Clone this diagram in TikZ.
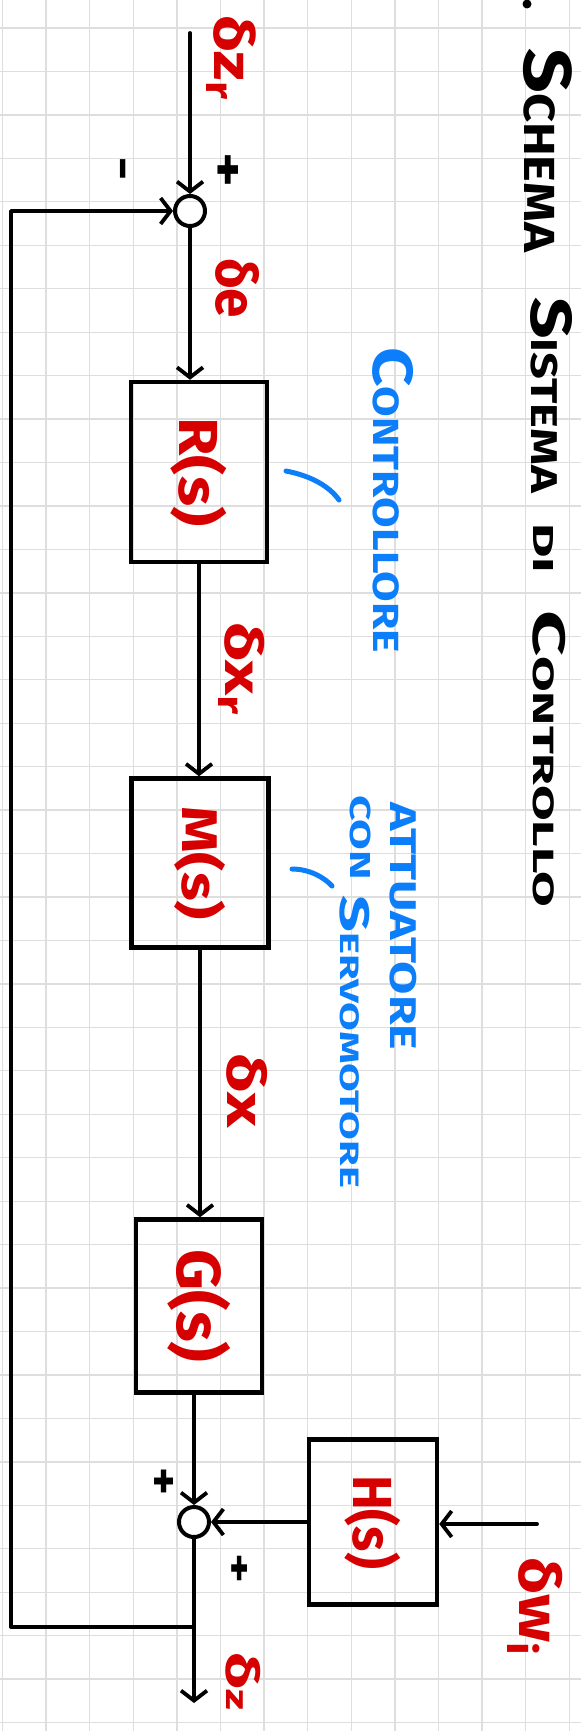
\documentclass[tikz,border=0pt]{standalone}
\usepackage{fontspec}
\setmainfont{Fira Sans}
\usetikzlibrary{arrows.meta,calc}
\definecolor{hred}{RGB}{214,0,0}
\definecolor{hblue}{RGB}{12,126,250}
\definecolor{gridc}{RGB}{222,222,222}
\newcommand\fitbox[3]{\resizebox*{#1}{#2}{#3}}
\newcommand\capL[1]{{\fontsize{15.5}{18}\selectfont #1}}
\begin{document}
\begin{tikzpicture}[x=1pt,y=-1pt,
  line/.style={line width=3.8pt,line cap=round,line join=round},
  arr/.style={line,-{Straight Barb[length=10pt,width=26pt]}},
  block/.style={draw,line width=4.5pt,inner sep=0pt},
  sumj/.style={circle,draw,line width=4pt,minimum size=30pt,inner sep=0pt},
  lab/.style={inner sep=0pt,anchor=south west,rotate=-90,text=hred,font=\bfseries},
  note/.style={inner sep=0pt,anchor=south west,rotate=-90,text=hblue,font=\bfseries},
  titl/.style={inner sep=0pt,anchor=south west,rotate=-90,text=black,font=\bfseries},
  sgn/.style={inner sep=0pt,rotate=-90,text=black,font=\bfseries},
  bluestroke/.style={hblue,line width=5pt,line cap=round},
  gridl/.style={gridc,line width=1.3pt}]
\fill[white] (0,0) rectangle (581,1731);
\useasboundingbox (0,0) rectangle (581,1731);
% grid
\foreach \i in {0,...,13} \draw[gridl] ({2.5+43.6*\i},0) -- ({2.5+43.6*\i},1731);
\foreach \j in {0,...,39} \draw[gridl] (0,{28+43.45*\j}) -- (581,{28+43.45*\j});

% title
\fill (527,4) circle (4.5);
\node[titl] (t1) at (523,48) {\fitbox{204pt}{49pt}{\capL{S}CHEMA}};
\node[titl] (t2) at (530,297) {\fitbox{196pt}{42pt}{\capL{S}ISTEMA}};
\node[titl] (t3) at (533,523) {\fitbox{50pt}{20pt}{DI}};
\node[titl] (t4) at (533,610) {\fitbox{297pt}{33pt}{\capL{C}ONTROLLO}};

% blocks
\node[sumj] (s1) at (190,211) {};
\node[block,minimum width=136pt,minimum height=180pt] (R) at (199,472)
  {\color{hred}\bfseries\rotatebox{-90}{\fitbox{109pt}{56pt}{R(s)}}};
\node[block,minimum width=137pt,minimum height=169pt] (M) at (200,863)
  {\color{hred}\bfseries\rotatebox{-90}{\fitbox{114pt}{51pt}{M(s)}}};
\node[block,minimum width=126pt,minimum height=173pt] (G) at (199,1306)
  {\color{hred}\bfseries\rotatebox{-90}{\fitbox{113pt}{63pt}{G(s)}}};
\node[sumj] (s2) at (194,1522) {};
\node[block,minimum width=128pt,minimum height=165pt] (H) at (373,1522)
  {\color{hred}\bfseries\rotatebox{-90}{\fitbox{94pt}{56pt}{H(s)}}};

\coordinate (zin) at (190,33);
\coordinate (win) at (537,1524);
\coordinate (zout) at (194,1703);
\coordinate (br) at (194,1627);
\coordinate (bl) at (11,1627);
\coordinate (tl) at (11,211);

% connectors
\draw[arr] (zin) -- (s1);
\draw[arr] (s1) -- (s1 |- R.north);
\draw[arr] (R.south) -- (R.south |- M.north);
\draw[arr] (M.south) -- (M.south |- G.north);
\draw[arr] (G.south -| s2) -- (s2);
\draw[arr] (s2) -- (zout);
\draw[arr] (H) -- (s2);
\draw[arr] (win) -- (win -| H.east);
\draw[arr] (br) -- (bl) -- (tl) -- (s1);

% signs
\node[sgn] (p1) at (226,170) {\fitbox{35pt}{26pt}{+}};
\node[sgn,font=\bfseries\fontsize{44}{44}\selectfont] (m1) at (117,169) {−};
\node[sgn] (p2) at (162,1481) {\fitbox{28pt}{24pt}{+}};
\node[sgn] (p3) at (238,1568) {\fitbox{30pt}{20pt}{+}};

% signal labels
\node[lab] (lzr) at (206,15) {\fitbox{87pt}{50pt}{δz\textsubscript{r}}};
\node[lab] (le) at (215,258) {\fitbox{60pt}{44pt}{δe}};
\node[lab] (lxr) at (218,622) {\fitbox{96pt}{47pt}{δx\textsubscript{r}}};
\node[lab] (lx) at (226,1053) {\fitbox{74pt}{41pt}{δx}};
\node[lab] (lz) at (226,1652) {\fitbox{58pt}{35pt}{δ{\scriptsize z}}};
\node[lab] (lw) at (507,1557) {\fitbox{101pt}{56pt}{δw\textsubscript{i}}};

% notes
\node[note] (n1) at (372,347) {\fitbox{306pt}{41pt}{\capL{C}ONTROLLORE}};
\node[note] (n2) at (390,802) {\fitbox{248pt}{27pt}{ATTUATORE}};
\node[note] (n3) at (350,795) {\fitbox{85pt}{21pt}{CON}};
\node[note] (n4) at (340,895) {\fitbox{293pt}{30pt}{\capL{S}ERVOMOTORE}};
\draw[bluestroke] (286,471) .. controls (312,476) and (330,487) .. (339,500);
\draw[bluestroke] (292,869) .. controls (310,869) and (325,878) .. (332,886);
\end{tikzpicture}
\end{document}
